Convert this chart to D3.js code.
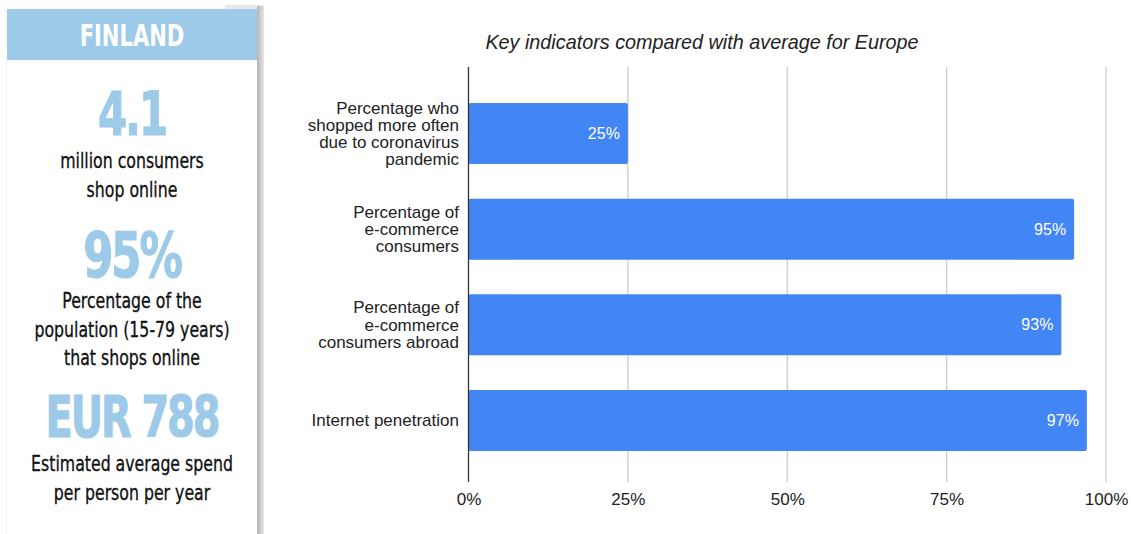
<!DOCTYPE html>
<html>
<head>
<meta charset="utf-8">
<script src="https://cdn.jsdelivr.net/npm/d3@7"></script>
<style>
  html, body { margin: 0; padding: 0; background: #ffffff; }
  svg { display: block; }
</style>
</head>
<body>
<svg id="chart" width="1131" height="534"></svg>
<script>
// Key indicators for Finland (percent)
const categories = [
  "Percentage who|shopped more often|due to coronavirus|pandemic",
  "Percentage of|e-commerce|consumers",
  "Percentage of|e-commerce|consumers abroad",
  "Internet penetration"
];
const values = [25, 95, 93, 97];
const tickValues = [0, 25, 50, 75, 100];
const tickLabels = ["0%", "25%", "50%", "75%", "100%"];

// Fact panel contents
const country = "FINLAND";
const facts = [
  { big: "4.1", lines: ["million consumers", "shop online"] },
  { big: "95%", lines: ["Percentage of the", "population (15-79 years)", "that shops online"] },
  { big: "EUR 788", lines: ["Estimated average spend", "per person per year"] }
];
const chartTitle = "Key indicators compared with average for Europe";

const svg = d3.select("#chart");
const panelFont = "'DejaVu Sans', sans-serif";
const sans = "'Liberation Sans', Arial, Helvetica, sans-serif";
const panelBlue = "#9dcae8";
const cx = 132;

// condensed text: draw with a horizontal squeeze around the centre line
function squeezed(yPos, sx) {
  return svg.append("text")
    .attr("transform", `translate(${cx},${yPos}) scale(${sx},1)`)
    .attr("x", 0).attr("y", 0).attr("text-anchor", "middle")
    .attr("font-family", panelFont);
}

// ---------- side fact panel ----------
const defs = svg.append("defs");
const grad = defs.append("linearGradient").attr("id", "shade").attr("x1", 0).attr("x2", 1);
grad.append("stop").attr("offset", 0).attr("stop-color", "#b4b4b4");
grad.append("stop").attr("offset", 1).attr("stop-color", "#e6e6e6");

svg.append("rect").attr("x", 225).attr("y", 5).attr("width", 38).attr("height", 4).attr("fill", "#e8e8e8");
svg.append("rect").attr("x", 257).attr("y", 6).attr("width", 7).attr("height", 528).attr("fill", "url(#shade)");
svg.append("line").attr("x1", 6.5).attr("x2", 6.5).attr("y1", 60).attr("y2", 534)
  .attr("stroke", "#f0f0f0").attr("stroke-width", 1);

svg.append("rect").attr("x", 7).attr("y", 9).attr("width", 250).attr("height", 51).attr("fill", panelBlue);
squeezed(46, 0.68).attr("font-weight", "bold").attr("font-size", 31)
  .attr("fill", "#ffffff").text(country);

const bigY = [135, 277, 437];
const bigSize = [60, 62, 57];
const lineStart = [168, 308, 471];
facts.forEach((f, i) => {
  squeezed(bigY[i], 0.7).attr("font-weight", "bold").attr("font-size", bigSize[i])
    .attr("letter-spacing", -3).attr("fill", panelBlue)
    .attr("stroke", panelBlue).attr("stroke-width", 1.2).text(f.big);
  f.lines.forEach((l, j) => {
    squeezed(lineStart[i] + j * 28.5, 0.75).attr("font-size", 21).attr("fill", "#111")
      .attr("stroke", "#111").attr("stroke-width", 0.35).text(l);
  });
});

// ---------- bar chart ----------
const x = d3.scaleLinear().domain([0, 100]).range([468.5, 1106]);
const y = d3.scaleBand().domain(categories).range([85.7, 468.3]).paddingInner(0.362).paddingOuter(0.181);
const gridTop = 67, gridBottom = 482;

svg.append("text").attr("x", 702).attr("y", 49).attr("text-anchor", "middle")
  .attr("font-family", sans).attr("font-style", "italic").attr("font-size", 19.8)
  .attr("fill", "#222").text(chartTitle);

// vertical gridlines
svg.append("g").selectAll("line").data(tickValues.slice(1)).join("line")
  .attr("x1", d => x(d)).attr("x2", d => x(d))
  .attr("y1", gridTop).attr("y2", gridBottom)
  .attr("stroke", "#cccccc").attr("stroke-width", 1.3);

// bars
svg.append("g").selectAll("rect").data(values).join("rect")
  .attr("x", x(0)).attr("y", (d, i) => y(categories[i]))
  .attr("width", d => x(d) - x(0)).attr("height", y.bandwidth())
  .attr("rx", 2).attr("fill", "#4285f4");

// value labels
svg.append("g").selectAll("text").data(values).join("text")
  .attr("x", d => x(d) - 8)
  .attr("y", (d, i) => y(categories[i]) + y.bandwidth() / 2)
  .attr("dy", "0.35em").attr("text-anchor", "end")
  .attr("font-family", sans).attr("font-size", 16).attr("fill", "#ffffff")
  .text(d => d + "%");

// baseline
svg.append("line").attr("x1", x(0)).attr("x2", x(0)).attr("y1", gridTop).attr("y2", gridBottom)
  .attr("stroke", "#333").attr("stroke-width", 1.3);

// x axis labels
const xAxis = d3.axisBottom(x).tickValues(tickValues).tickSize(0).tickPadding(0)
  .tickFormat((d, i) => tickLabels[i]);
const gx = svg.append("g").attr("transform", `translate(0,${gridBottom + 11})`).call(xAxis);
gx.select(".domain").remove();
gx.selectAll("text").attr("font-family", sans).attr("font-size", 17).attr("fill", "#222");

// category labels (multi-line, right aligned)
const lineH = 17.3;
categories.forEach(c => {
  const parts = c.split("|");
  const cy = y(c) + y.bandwidth() / 2;
  const t = svg.append("text").attr("text-anchor", "end")
    .attr("font-family", sans).attr("font-size", 17).attr("fill", "#222");
  parts.forEach((p, j) => {
    t.append("tspan").attr("x", 459)
      .attr("y", cy + (j - (parts.length - 1) / 2) * lineH)
      .attr("dy", "0.35em").text(p);
  });
});
</script>
</body>
</html>
